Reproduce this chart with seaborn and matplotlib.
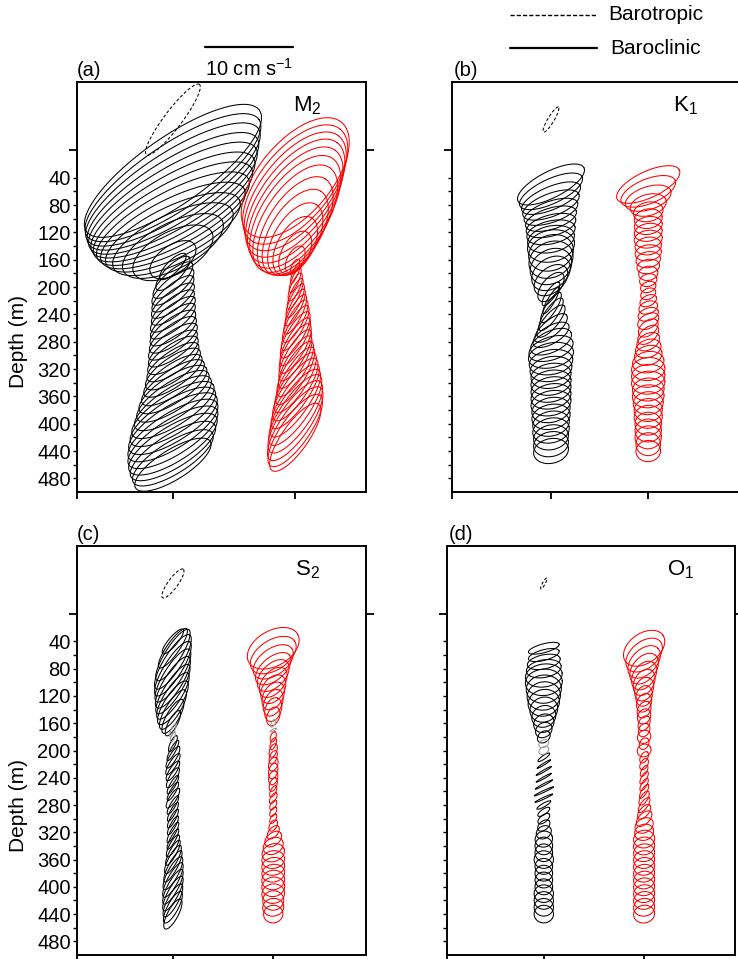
import numpy as np
import pandas as pd
import matplotlib
matplotlib.use("Agg")
import matplotlib.pyplot as plt
import seaborn as sns
from matplotlib.ticker import FixedLocator, NullFormatter, FuncFormatter
from matplotlib.lines import Line2D

# ---------------- data (cm/s, degrees, metres) ----------------
# M2
M2_C1_DEPTH = [30, 40, 50, 60, 70, 80, 90, 100, 110, 120, 130, 140, 150, 160, 170, 180, 190, 200, 210, 220,
               230, 240, 250, 260, 270, 280, 290, 300, 310, 320, 330, 340, 350, 360, 370, 380, 390, 400, 410,
               420, 430, 440, 450, 460]
M2_C1_MAJOR = [12.0, 11.8, 11.6, 11.3, 11.0, 10.6, 10.2, 9.7, 9.1, 8.4, 7.5, 6.3, 5.0, 3.0,
               2.0, 2.6, 2.9, 3.0, 3.0, 3.0, 3.0, 3.1, 3.1, 3.1,
               3.2, 3.3, 3.3, 3.4, 3.5, 3.7, 3.9, 4.2, 4.5, 4.8,
               5.1, 5.4, 5.6, 5.8, 5.9, 5.9, 5.8, 5.6, 5.3, 5.0]
M2_C1_MINOR = [3.8, 3.7, 3.6, 3.5, 3.4, 3.3, 3.2, 3.1, 3.0, 2.9, 2.8, 2.6, 2.4, 1.6,
               0.7, 0.9, 1.0, 1.0, 1.0, 1.0, 1.0, 1.0, 1.0, 1.1,
               1.1, 1.1, 1.1, 1.2, 1.2, 1.3, 1.3, 1.4, 1.5, 1.6,
               1.7, 1.8, 1.9, 2.0, 2.0, 2.0, 2.0, 1.9, 1.8, 1.7]
M2_C1_INC = [35, 34, 33, 32, 31, 30, 29, 28, 27, 26, 26, 27, 28, 35,
             45, 45, 42, 40, 40, 38, 38, 37, 37, 36,
             36, 35, 35, 35, 35, 35, 34, 34, 33, 33,
             33, 32, 32, 32, 32, 32, 32, 32, 32, 32]

M2_C2_DEPTH = [40, 50, 60, 70, 80, 90, 100, 110, 120, 130, 140, 150, 160, 170, 180, 190, 200, 210, 220, 230,
               240, 250, 260, 270, 280, 290, 300, 310, 320, 330, 340, 350, 360, 370, 380, 390, 400, 410, 420]
M2_C2_MAJOR = [8.2, 8.1, 8.0, 7.9, 7.7, 7.4, 7.0, 6.3, 5.5, 4.6, 3.7, 2.7, 1.7, 0.9,
               1.2, 1.5, 1.7, 1.9, 2.1, 2.3, 2.5, 2.7, 2.9, 3.0,
               3.1, 3.2, 3.3, 3.4, 3.6, 3.8, 4.0, 4.2, 4.4, 4.6,
               4.8, 4.9, 5.0, 4.9, 4.6]
M2_C2_MINOR = [4.1, 4.0, 3.9, 3.8, 3.7, 3.6, 3.4, 3.1, 2.8, 2.4, 2.0, 1.5, 0.9, 0.4,
               0.3, 0.4, 0.5, 0.5, 0.6, 0.6, 0.7, 0.8, 0.8, 0.9,
               0.9, 1.0, 1.0, 1.0, 1.1, 1.1, 1.2, 1.3, 1.3, 1.4,
               1.5, 1.6, 1.6, 1.6, 1.5]
M2_C2_INC = [50, 51, 52, 53, 54, 55, 56, 57, 58, 59, 60, 60, 62, 65,
             68, 68, 67, 66, 65, 64, 63, 62, 61, 60,
             60, 60, 60, 60, 59, 58, 57, 56, 55, 55,
             55, 55, 55, 55, 55]

# K1
K1_C1_DEPTH = [50, 60, 70, 80, 90, 100, 110, 120, 130, 140, 150, 160, 170, 180, 190, 200, 210, 220, 230, 240,
               250, 260, 270, 280, 290, 300, 310, 320, 330, 340, 350, 360, 370, 380, 390, 400, 410, 420, 430, 440]
K1_C1_MAJOR = [4.2, 3.9, 3.6, 3.4, 3.2, 3.0, 2.9, 2.8, 2.7, 2.7,
               2.6, 2.6, 2.5, 2.4, 2.2, 2.0, 1.6, 1.7, 2.0, 2.2,
               2.3, 2.3, 2.3, 2.5, 2.6, 2.6, 2.5, 2.4, 2.3, 2.3,
               2.3, 2.3, 2.3, 2.2, 2.2, 2.1, 2.1, 2.0, 2.0, 2.0]
K1_C1_MINOR = [1.5, 1.4, 1.3, 1.3, 1.2, 1.2, 1.2, 1.3, 1.5, 1.8,
               2.0, 2.0, 1.9, 1.7, 1.4, 1.0, 0.5, 0.4, 0.6, 0.7,
               0.8, 0.9, 1.0, 1.2, 1.3, 1.4, 1.4, 1.4, 1.4, 1.4,
               1.4, 1.4, 1.4, 1.4, 1.4, 1.4, 1.4, 1.4, 1.4, 1.4]
K1_C1_INC = [27, 25, 23, 21, 19, 17, 15, 13, 12, 12,
             20, 25, 30, 35, 40, 50, 55, 60, 58, 55,
             50, 40, 30, 25, 18, 12, 10, 10, 10, 10,
             12, 12, 12, 12, 12, 12, 12, 12, 12, 12]

K1_C2_DEPTH = [50, 60, 70, 80, 90, 100, 110, 120, 130, 140, 150, 160, 170, 180, 190, 200, 210, 220, 230, 240,
               250, 260, 270, 280, 290, 300, 310, 320, 330, 340, 350, 360, 370, 380, 390, 400, 410, 420, 430, 440]
K1_C2_MAJOR = [3.9, 3.3, 2.7, 2.1, 1.7, 1.6, 1.6, 1.6, 1.6, 1.5,
               1.5, 1.4, 1.3, 1.1, 1.0, 0.9, 0.9, 1.0, 1.1, 1.2,
               1.3, 1.3, 1.4, 1.4, 1.5, 1.6, 1.8, 1.9, 1.9, 1.9,
               1.8, 1.8, 1.7, 1.6, 1.6, 1.5, 1.5, 1.5, 1.4, 1.4]
K1_C2_MINOR = [1.5, 1.4, 1.3, 1.2, 1.1, 1.1, 1.0, 1.0, 1.0, 1.0,
               0.9, 0.9, 0.8, 0.8, 0.7, 0.6, 0.6, 0.6, 0.7, 0.7,
               0.8, 0.8, 0.8, 0.9, 1.0, 1.1, 1.2, 1.3, 1.3, 1.3,
               1.3, 1.3, 1.3, 1.3, 1.3, 1.3, 1.3, 1.3, 1.3, 1.2]
K1_C2_INC = [25, 22, 18, 15, 12, 10, 10, 10, 8, 8,
             8, 10, 10, 10, 15, 20, 25, 25, 20, 20,
             30, 40, 40, 30, 20, 15, 10, 5, 5, 5,
             5, 5, 5, 5, 5, 5, 5, 5, 5, 5]

# S2
S2_C1_DEPTH = [40, 50, 60, 70, 80, 90, 100, 110, 120, 130, 140, 150, 160, 170, 180, 190, 200, 210, 220, 230,
               240, 250, 260, 270, 280, 290, 300, 310, 320, 330, 340, 350, 360, 370, 380, 390, 400, 410, 420,
               430, 440]
S2_C1_MAJOR = [1.8, 2.7, 3.4, 3.6, 3.6, 3.5, 3.4, 3.3, 3.1, 2.9,
               2.6, 2.2, 1.6, 0.8, 0.6, 1.0, 1.3, 1.4, 1.4, 1.3,
               1.3, 1.2, 1.2, 1.3, 1.2, 1.2, 1.2, 1.2, 1.3, 1.3,
               1.4, 1.6, 1.8, 2.0, 2.1, 2.2, 2.2, 2.2, 2.1, 2.0,
               1.9]
S2_C1_MINOR = [0.5, 0.7, 0.9, 1.0, 1.0, 1.0, 1.0, 0.9, 0.9, 0.9,
               0.8, 0.7, 0.5, 0.2, 0.2, 0.3, 0.3, 0.4, 0.4, 0.4,
               0.4, 0.3, 0.3, 0.4, 0.3, 0.3, 0.3, 0.3, 0.3, 0.3,
               0.4, 0.4, 0.5, 0.5, 0.6, 0.6, 0.6, 0.6, 0.6, 0.6,
               0.6]
S2_C1_INC = [50, 55, 58, 58, 58, 58, 58, 57, 57, 57,
             58, 60, 62, 65, 70, 65, 62, 60, 58, 58,
             60, 60, 60, 58, 60, 62, 62, 62, 62, 62,
             62, 62, 62, 62, 62, 62, 62, 62, 62, 62,
             62]
S2_C1_GREY = [170, 180]

S2_C2_DEPTH = [50, 60, 70, 80, 90, 100, 110, 120, 130, 140, 150, 160, 170, 180, 190, 200, 210, 220, 230, 240,
               250, 260, 270, 280, 290, 300, 310, 320, 330, 340, 350, 360, 370, 380, 390, 400, 410, 420, 430, 440]
S2_C2_MAJOR = [3.2, 2.9, 2.6, 2.4, 2.2, 2.0, 1.8, 1.7, 1.6, 1.4,
               1.1, 0.5, 0.4, 0.6, 0.7, 0.8, 0.8, 0.8, 0.9, 0.8,
               0.8, 0.7, 0.7, 0.6, 0.6, 0.6, 0.7, 0.9, 1.1, 1.2,
               1.3, 1.3, 1.3, 1.3, 1.3, 1.3, 1.3, 1.2, 1.2, 1.1]
S2_C2_MINOR = [2.0, 1.7, 1.5, 1.3, 1.3, 1.2, 1.2, 1.1, 1.0, 0.9,
               0.7, 0.2, 0.1, 0.3, 0.3, 0.4, 0.4, 0.5, 0.5, 0.5,
               0.4, 0.3, 0.3, 0.3, 0.3, 0.3, 0.4, 0.5, 0.7, 0.9,
               1.0, 1.0, 1.0, 1.0, 1.1, 1.1, 1.1, 1.1, 1.0, 1.0]
S2_C2_INC = [30, 33, 36, 40, 45, 50, 55, 60, 65, 70,
             70, 60, 30, 70, 70, 70, 70, 70, 75, 75,
             70, 65, 60, 60, 60, 60, 60, 50, 40, 30,
             20, 10, 10, 10, 10, 10, 10, 10, 10, 10]
S2_C2_GREY = [160, 170]

# O1
O1_C1_DEPTH = [50, 60, 70, 80, 90, 100, 110, 120, 130, 140, 150, 160, 170, 180, 190, 200, 210, 220, 230, 240,
               250, 260, 270, 280, 290, 300, 310, 320, 330, 340, 350, 360, 370, 380, 390, 400, 410, 420, 430, 440]
O1_C1_MAJOR = [1.8, 1.8, 1.9, 2.0, 2.1, 2.1, 2.0, 1.9, 1.8, 1.6,
               1.4, 1.2, 1.0, 0.8, 0.6, 0.6, 0.8, 0.9, 1.0, 1.0,
               1.1, 1.2, 1.1, 0.9, 0.8, 0.8, 0.8, 0.9, 1.0, 1.0,
               1.0, 1.1, 1.0, 1.0, 1.0, 1.0, 1.1, 1.1, 1.1, 1.1]
O1_C1_MINOR = [0.5, 0.6, 0.8, 1.0, 1.3, 1.5, 1.6, 1.6, 1.5, 1.4,
               1.2, 1.0, 0.8, 0.6, 0.4, 0.4, 0.2, 0.1, 0.1, 0.1,
               0.1, 0.1, 0.1, 0.2, 0.3, 0.4, 0.5, 0.7, 0.9, 1.0,
               1.0, 1.0, 0.9, 0.9, 0.9, 0.9, 1.0, 1.0, 1.0, 1.0]
O1_C1_INC = [15, 15, 12, 10, 8, 5, 5, 10, 15, 20,
             25, 30, 35, 40, 30, 30, 35, 32, 30, 30,
             28, 25, 25, 30, 35, 40, 40, 30, 20, 0,
             0, 0, 0, 0, 0, 0, 0, 0, 0, 0]
O1_C1_GREY = [190, 200]

O1_C2_DEPTH = [50, 60, 70, 80, 90, 100, 110, 120, 130, 140, 150, 160, 170, 180, 190, 200, 210, 220, 230, 240,
               250, 260, 270, 280, 290, 300, 310, 320, 330, 340, 350, 360, 370, 380, 390, 400, 410, 420, 430, 440]
O1_C2_MAJOR = [2.6, 2.4, 2.2, 2.0, 1.8, 1.6, 1.4, 1.2, 1.1, 1.0,
               0.9, 0.9, 0.8, 0.8, 0.7, 0.8, 0.7, 0.7, 0.7, 0.8,
               0.8, 0.9, 0.9, 1.0, 1.0, 1.1, 1.1, 1.1, 1.2, 1.2,
               1.2, 1.2, 1.2, 1.2, 1.2, 1.2, 1.2, 1.2, 1.2, 1.2]
O1_C2_MINOR = [1.7, 1.5, 1.4, 1.3, 1.2, 1.1, 1.0, 0.9, 0.8, 0.7,
               0.7, 0.6, 0.6, 0.7, 0.5, 0.7, 0.4, 0.4, 0.3, 0.3,
               0.3, 0.3, 0.4, 0.4, 0.5, 0.6, 0.8, 0.9, 1.0, 1.0,
               1.0, 1.0, 1.0, 1.0, 1.0, 1.0, 1.0, 1.0, 1.0, 1.0]
O1_C2_INC = [35, 40, 45, 50, 55, 60, 65, 70, 65, 60,
             60, 60, 60, 40, 60, 30, 60, 60, 60, 60,
             60, 60, 58, 55, 50, 45, 30, 20, 10, 10,
             10, 10, 10, 10, 10, 10, 10, 10, 10, 10]

# barotropic ellipses (panels a-d)
BT_DEPTH = [-45, -45, -45, -45]
BT_MAJOR = [5.0, 1.65, 2.0, 0.7]
BT_MINOR = [1.0, 0.35, 0.55, 0.15]
BT_INC = [53, 59, 54, 61]

PANEL_LABELS = ["(a)", "(b)", "(c)", "(d)"]
CONSTITUENTS = ["M$_2$", "K$_1$", "S$_2$", "O$_1$"]
COL1_X = [10.9, 11.25, 10.9, 11.0]   # cm/s from left axis edge
COL2_X = [24.8, 22.3, 22.3, 22.4]
DEPTH_LABELS = [40, 80, 120, 160, 200, 240, 280, 320, 360, 400, 440, 480]
DEPTH_MINOR = [40, 60, 80, 100, 120, 140, 160, 180, 200, 220, 240, 260, 280, 300, 320, 340, 360, 380, 400,
               420, 440, 460, 480]
SCALE_LEN = 10  # cm/s

# ---------------- style ----------------
sns.set_theme(style="white")
plt.rcParams["font.family"] = ["Liberation Sans", "DejaVu Sans"]
plt.rcParams["mathtext.fontset"] = "custom"
plt.rcParams["mathtext.rm"] = "Liberation Sans"
plt.rcParams["mathtext.it"] = "Liberation Sans:italic"
plt.rcParams["mathtext.default"] = "regular"
for k in ["text.color", "axes.labelcolor", "xtick.color", "ytick.color", "axes.edgecolor"]:
    plt.rcParams[k] = "black"

W, H = 738, 959
fig = plt.figure(figsize=(W / 100, H / 100), dpi=100)
fig.patch.set_facecolor("white")

AX_RECTS_PX = [(77, 82, 366, 492), (452, 82, 741, 492), (77, 546, 366, 955), (447, 546, 735, 955)]
PX_PER_CMS = 8.8
YTOP, YBOT = -100, 500

COLUMNS = [
    [(M2_C1_DEPTH, M2_C1_MAJOR, M2_C1_MINOR, M2_C1_INC, []), (M2_C2_DEPTH, M2_C2_MAJOR, M2_C2_MINOR, M2_C2_INC, [])],
    [(K1_C1_DEPTH, K1_C1_MAJOR, K1_C1_MINOR, K1_C1_INC, []), (K1_C2_DEPTH, K1_C2_MAJOR, K1_C2_MINOR, K1_C2_INC, [])],
    [(S2_C1_DEPTH, S2_C1_MAJOR, S2_C1_MINOR, S2_C1_INC, S2_C1_GREY),
     (S2_C2_DEPTH, S2_C2_MAJOR, S2_C2_MINOR, S2_C2_INC, S2_C2_GREY)],
    [(O1_C1_DEPTH, O1_C1_MAJOR, O1_C1_MINOR, O1_C1_INC, O1_C1_GREY),
     (O1_C2_DEPTH, O1_C2_MAJOR, O1_C2_MINOR, O1_C2_INC, [])],
]

T = np.linspace(0, 2 * np.pi, 121)


def ellipse_frame(xc, depths, major, minor, inc, K):
    rows = []
    for i, (d, a, b, th) in enumerate(zip(depths, major, minor, inc)):
        r = np.deg2rad(th)
        u = a * np.cos(T) * np.cos(r) - b * np.sin(T) * np.sin(r)
        v = a * np.cos(T) * np.sin(r) + b * np.sin(T) * np.cos(r)
        rows.append(pd.DataFrame({"x": xc + u, "y": d - v * K, "eid": i, "depth": d}))
    return pd.concat(rows, ignore_index=True)


def draw(ax, df, color, ls="-"):
    if len(df) == 0:
        return
    sns.lineplot(data=df, x="x", y="y", units="eid", estimator=None, sort=False,
                 color=color, lw=0.75, ls=ls, ax=ax, legend=False)


axes = []
for p, (l, t, r, b) in enumerate(AX_RECTS_PX):
    ax = fig.add_axes([l / W, 1 - b / H, (r - l) / W, (b - t) / H])
    axes.append(ax)
    xmax = (r - l) / PX_PER_CMS
    K = PX_PER_CMS / ((b - t) / (YBOT - YTOP))  # metres of depth per cm/s

    for cidx, (dep, maj, mnr, inc, grey) in enumerate(COLUMNS[p]):
        xc = COL1_X[p] if cidx == 0 else COL2_X[p]
        df = ellipse_frame(xc, dep, maj, mnr, inc, K)
        base = "black" if cidx == 0 else "#ff0000"
        draw(ax, df[~df["depth"].isin(grey)], base)
        draw(ax, df[df["depth"].isin(grey)], "#9a9a9a")

    bt = ellipse_frame(COL1_X[p], [BT_DEPTH[p]], [BT_MAJOR[p]], [BT_MINOR[p]], [BT_INC[p]], K)
    draw(ax, bt, "black", ls=(0, (3, 2)))

    ax.set_xlim(0, xmax)
    ax.set_ylim(YBOT, YTOP)
    ax.set_xlabel("")
    ax.set_ylabel("")
    ax.set_facecolor("white")
    for s in ax.spines.values():
        s.set_visible(True)
        s.set_color("black")
        s.set_linewidth(1.4)

    ax.xaxis.set_major_locator(FixedLocator([0, COL1_X[p], COL2_X[p]]))
    ax.xaxis.set_major_formatter(NullFormatter())
    ax.tick_params(axis="x", which="major", bottom=True, top=False, length=5, width=1.3,
                   direction="out", labelbottom=False)

    ax.yaxis.set_major_locator(FixedLocator([0]))
    ax.yaxis.set_major_formatter(NullFormatter())
    ax.yaxis.set_minor_locator(FixedLocator(DEPTH_MINOR))
    if p in (0, 2):
        ax.yaxis.set_minor_formatter(FuncFormatter(lambda v, pos: f"{int(v)}" if int(v) in DEPTH_LABELS else ""))
    else:
        ax.yaxis.set_minor_formatter(NullFormatter())
    ax.tick_params(axis="y", which="major", left=True, right=True, length=6, width=1.3, direction="out")
    ax.tick_params(axis="y", which="minor", left=True, right=False, length=3, width=1.0,
                   direction="out", labelsize=14.5, pad=1.5)

    if p in (0, 2):
        ax.text(-0.202, 0.366, "Depth (m)", rotation=90, ha="center", va="center",
                fontsize=15, transform=ax.transAxes)
    ax.text(0.0 if p in (0, 2) else 0.006, 1.028, PANEL_LABELS[p], ha="left", va="center",
            fontsize=14.5, transform=ax.transAxes)
    tx = [0.747, 0.765, 0.754, 0.764][p]
    ax.text(tx, 0.928, CONSTITUENTS[p], ha="left", va="baseline", fontsize=16, transform=ax.transAxes)

# scale bar (panel a)
ax0 = axes[0]
l, t, r, b = AX_RECTS_PX[0]
sb_x0 = (205 - l) / PX_PER_CMS
sb_y = YTOP + (47 - t) * (YBOT - YTOP) / (b - t)
ax0.plot([sb_x0, sb_x0 + SCALE_LEN], [sb_y, sb_y], color="black", lw=1.6, clip_on=False)
fig.text(249 / W, 1 - 69 / H, "10 cm s$^{-1}$", ha="center", va="center", fontsize=14.5)

# legend
fig.add_artist(Line2D([510 / W, 597 / W], [1 - 15 / H, 1 - 15 / H], color="black", lw=1.0, ls=(0, (3, 1.5)),
                      transform=fig.transFigure))
fig.add_artist(Line2D([510 / W, 597 / W], [1 - 48 / H, 1 - 48 / H], color="black", lw=1.6,
                      transform=fig.transFigure))
fig.text(608 / W, 1 - 15 / H, "Barotropic", ha="left", va="center", fontsize=15)
fig.text(610 / W, 1 - 48 / H, "Baroclinic", ha="left", va="center", fontsize=15)

fig.savefig("out.png", dpi=100, facecolor="white")
